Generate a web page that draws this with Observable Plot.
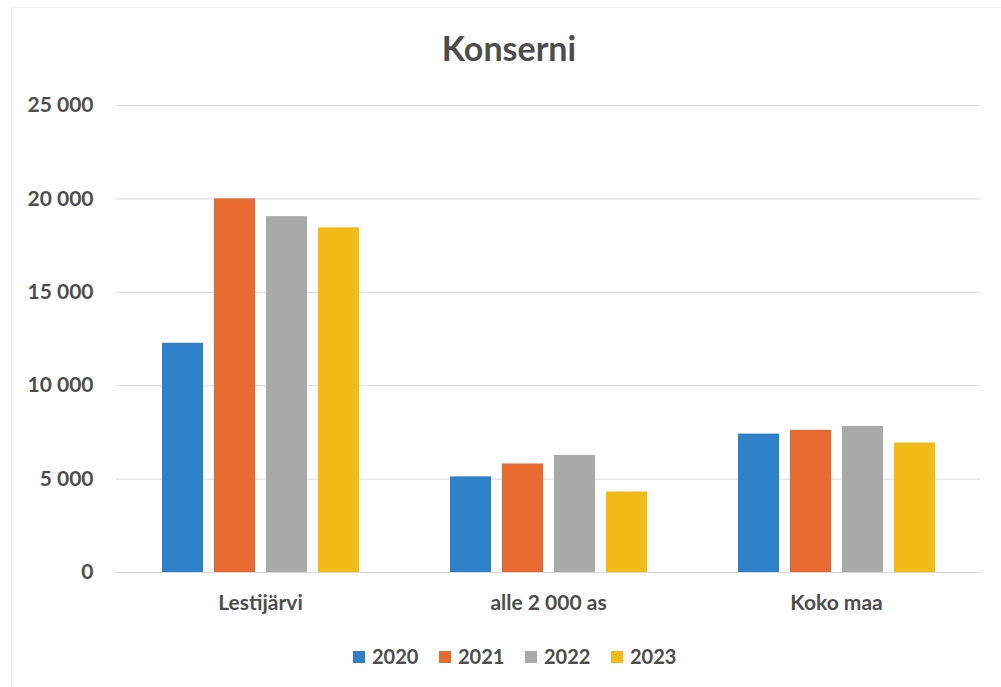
<!DOCTYPE html>
<html>
<head>
<meta charset="utf-8">
<script src="https://cdn.jsdelivr.net/npm/d3@7"></script>
<script src="https://cdn.jsdelivr.net/npm/@observablehq/plot@0.6"></script>
<style>
  html, body { margin: 0; padding: 0; background: #fff; }
  #wrap { position: relative; width: 1001px; height: 687px; overflow: hidden; font-family: Lato, "Open Sans", sans-serif; color: #4d4d4d; }
  #title { position: absolute; left: 0; width: 1018px; top: 31px; text-align: center; font-size: 34px; line-height: 1; font-weight: bold; }
  #chart { position: absolute; left: 0; top: 80px; }
  #legend { position: absolute; top: 646px; left: 353px; display: flex; font-size: 20px; line-height: 1; font-weight: bold; }
  .item { display: flex; align-items: center; width: 86px; }
  .sw { width: 12px; height: 12px; margin-right: 7px; margin-top: 2px; }
  #edgeL { position: absolute; left: 11px; top: 7px; width: 1px; height: 680px; background: #ececec; }
  #edgeT { position: absolute; left: 11px; top: 7px; width: 990px; height: 1px; background: #f0f0f0; }
</style>
</head>
<body>
<div id="wrap">
  <div id="edgeL"></div>
  <div id="edgeT"></div>
  <div id="title">Konserni</div>
  <div id="chart"></div>
  <div id="legend"></div>
</div>
<script>
const categories = ["Lestijärvi", "alle 2 000 as", "Koko maa"];
const years = ["2020", "2021", "2022", "2023"];
const v2020 = [12270, 5120, 7410];
const v2021 = [20000, 5810, 7610];
const v2022 = [19050, 6270, 7820];
const v2023 = [18450, 4310, 6930];
const yTicks = [0, 5000, 10000, 15000, 20000, 25000];
const colors = ["#2f80c8", "#e96a2f", "#a9a9a9", "#f4bb16"];

const series = [v2020, v2021, v2022, v2023];
const data = [];
categories.forEach((c, i) => {
  years.forEach((y, j) => data.push({cat: c, year: y, value: series[j][i]}));
});

const fmt = d => d3.format(",")(d).replace(/,/g, " ");

const chart = Plot.plot({
  width: 1001,
  height: 542,
  marginLeft: 115,
  marginRight: 20,
  marginTop: 25,
  marginBottom: 50,
  style: {fontFamily: "Lato, 'Open Sans', sans-serif", color: "#4d4d4d", background: "transparent"},
  fx: {domain: categories, padding: 0, label: null},
  x: {domain: years, paddingInner: 0.22, paddingOuter: 0.84, axis: null},
  y: {domain: [0, 25000], label: null},
  color: {domain: years, range: colors},
  marks: [
    Plot.gridY(yTicks, {stroke: "#d9d9d9", strokeOpacity: 1}),
    Plot.axisY(yTicks, {tickSize: 0, tickPadding: 23, tickFormat: fmt, fontSize: 21, fontWeight: "bold", fill: "#4d4d4d", label: null}),
    Plot.axisFx({anchor: "bottom", tickSize: 0, tickPadding: 23, fontSize: 21, fontWeight: "bold", fill: "#4d4d4d", label: null}),
    Plot.barY(data, {fx: "cat", x: "year", y: "value", fill: "year"}),
    Plot.ruleY([0], {stroke: "#d9d9d9"})
  ]
});
document.getElementById("chart").appendChild(chart);

const legend = document.getElementById("legend");
years.forEach((y, j) => {
  const it = document.createElement("div");
  it.className = "item";
  const sw = document.createElement("div");
  sw.className = "sw";
  sw.style.background = colors[j];
  const t = document.createElement("span");
  t.textContent = y;
  it.appendChild(sw);
  it.appendChild(t);
  legend.appendChild(it);
});
</script>
</body>
</html>
